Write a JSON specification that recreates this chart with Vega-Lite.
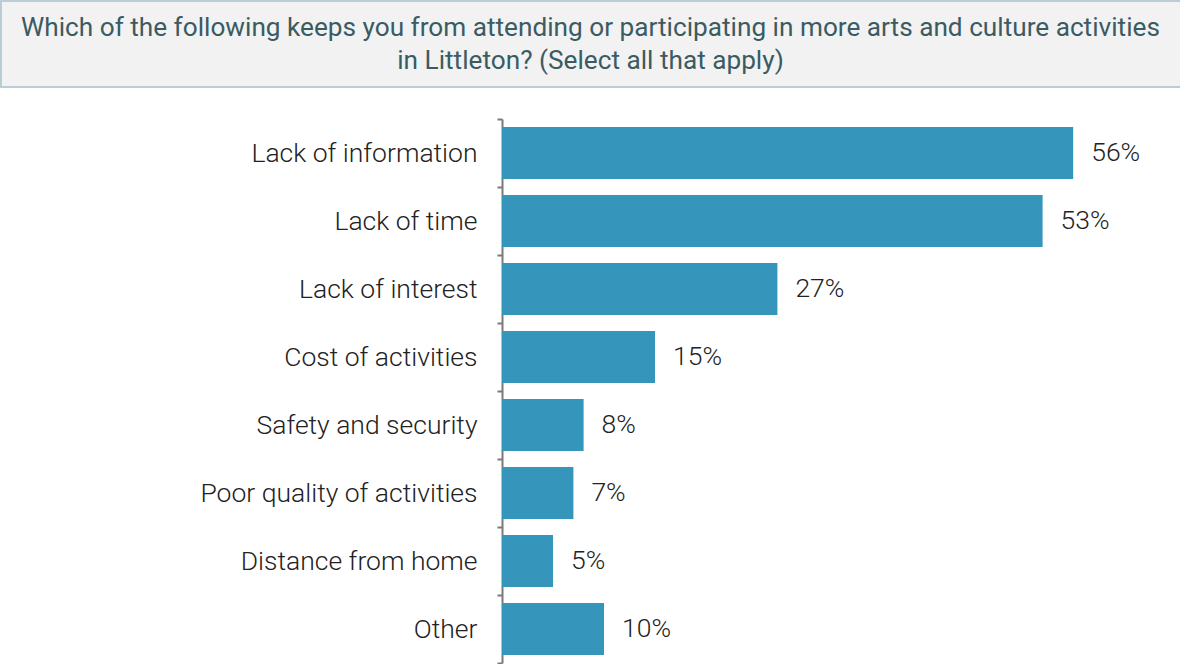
{
  "$schema": "https://vega.github.io/schema/vega-lite/v6.json",
  "padding": 0,
  "background": "#ffffff",
  "spacing": 18,
  "config": {
    "font": "Roboto",
    "view": {"stroke": null}
  },
  "vconcat": [
    {
      "width": 1185,
      "height": 86,
      "view": {"fill": "#f2f2f2", "stroke": "#b8cdd6", "strokeWidth": 2},
      "data": {"values": [{"q": ["Which of the following keeps you from attending or participating in more arts and culture activities", "in Littleton? (Select all that apply)"]}]},
      "mark": {"type": "text", "align": "center", "baseline": "middle", "fontSize": 26.2, "lineHeight": 33, "font": "Roboto", "color": "#3b5b63", "dx": -3, "dy": -16},
      "encoding": {"text": {"field": "q"}}
    },
    {
      "width": 1180,
      "height": 544,
      "data": {"values": [
        {"cat": "Lack of information", "pct": 0.56},
        {"cat": "Lack of time", "pct": 0.53},
        {"cat": "Lack of interest", "pct": 0.27},
        {"cat": "Cost of activities", "pct": 0.15},
        {"cat": "Safety and security", "pct": 0.08},
        {"cat": "Poor quality of activities", "pct": 0.07},
        {"cat": "Distance from home", "pct": 0.05},
        {"cat": "Other", "pct": 0.10}
      ]},
      "encoding": {
        "y": {
          "field": "cat", "type": "nominal", "sort": null,
          "scale": {"paddingInner": 0, "paddingOuter": 0},
          "axis": {
            "title": null, "offset": -501,
            "domainColor": "#7a7a7a", "domainWidth": 2,
            "tickColor": "#7a7a7a", "tickWidth": 2, "tickSize": 5, "tickBand": "extent",
            "labelFont": "Roboto", "labelFontSize": 26.5, "labelFontWeight": 300, "labelColor": "#222222",
            "labelPadding": 20, "labelLimit": 480
          }
        },
        "x": {
          "field": "pct", "type": "quantitative",
          "scale": {"domain": [-0.4912, 0.6657], "nice": false, "zero": false},
          "axis": null
        }
      },
      "layer": [
        {
          "mark": {"type": "bar", "height": {"band": 0.765}, "color": "#3595bb"},
          "encoding": {"x2": {"datum": 0}}
        },
        {
          "mark": {"type": "text", "align": "left", "baseline": "middle", "dx": 18, "fontSize": 26.5, "fontWeight": 300, "font": "Roboto", "color": "#222222"},
          "encoding": {"text": {"field": "pct", "type": "quantitative", "format": ".0%"}}
        }
      ]
    }
  ]
}
